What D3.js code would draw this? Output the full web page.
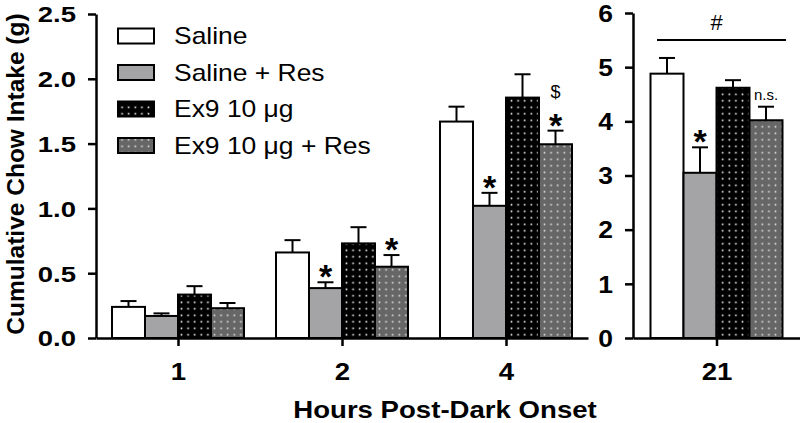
<!DOCTYPE html>
<html lang="en">
<head>
  <meta charset="UTF-8">
  <title>Cumulative Chow Intake</title>
  <script src="https://d3js.org/d3.v7.min.js"></script>
  <style>
    body { margin: 0; background: #fff; }
    text { font-family: Arial, "Liberation Sans", sans-serif; fill: #000; }
    .axis path, .axis line { stroke: #000; stroke-width: 2.5px; }
    .bar { stroke: #000; stroke-width: 2px; }
    .err { stroke: #000; stroke-width: 2px; fill: none; }
  </style>
</head>
<body>
  <svg width="800" height="423"></svg>

  <script>
    // data
    const hours = ["1", "2", "4"];
    const lateHours = ["21"];
    const groups = ["Saline", "Saline + Res", "Ex9 10 μg", "Ex9 10 μg + Res"];

    const saline      = [0.24, 0.66, 1.67];
    const salineRes   = [0.17, 0.385, 1.02];
    const ex9         = [0.335, 0.73, 1.855];
    const ex9Res      = [0.23, 0.55, 1.495];
    const salineErr    = [0.045, 0.095, 0.115];
    const salineResErr = [0.02, 0.045, 0.10];
    const ex9Err       = [0.065, 0.125, 0.18];
    const ex9ResErr    = [0.04, 0.09, 0.105];

    const day21    = [4.88, 3.05, 4.62, 4.02];
    const day21Err = [0.29, 0.47, 0.14, 0.25];

    const leftTicks = [0, 0.5, 1.0, 1.5, 2.0, 2.5];
    const rightTicks = [0, 1, 2, 3, 4, 5, 6];

    // significance marks: [panel, category, group index, label]
    const marks = [
      ["left", "2", 1, "*"], ["left", "2", 3, "*"],
      ["left", "4", 1, "*"], ["left", "4", 3, "*"],
      ["right", "21", 1, "*"]
    ];

    const svg = d3.select("svg");
    const fills = ["#fff", "#a4a4a7", "url(#dotBlack)", "url(#dotGrey)"];

    const defs = svg.append("defs");
    function dotPattern(id, bg, dot) {
      const p = defs.append("pattern").attr("id", id)
        .attr("patternUnits", "userSpaceOnUse").attr("width", 6.6).attr("height", 6.5);
      p.append("rect").attr("width", 6.6).attr("height", 6.5).attr("fill", bg);
      p.append("rect").attr("x", 2.5).attr("y", 2.5).attr("width", 1.6).attr("height", 1.6).attr("fill", dot);
    }
    dotPattern("dotBlack", "#000", "#fff");
    dotPattern("dotGrey", "#666", "#e6e6e6");

    // stretch text horizontally like the original
    function stretch(sel, s) {
      sel.each(function () {
        const t = d3.select(this);
        const x = +t.attr("x") || 0, y = +t.attr("y") || 0;
        t.attr("x", 0).attr("y", 0)
          .attr("transform", `translate(${x},${y}) scale(${s},1)`);
      });
    }

    const barW = 33;
    const y0 = 338;

    const xL = d3.scalePoint().domain(hours).range([96, 588]).padding(0.5);
    const yL = d3.scaleLinear().domain([0, 2.5]).range([y0, 14]);
    const xR = d3.scalePoint().domain(lateHours).range([633, 800]).padding(0.5);
    const yR = d3.scaleLinear().domain([0, 6]).range([y0, 13]);
    const xG = d3.scaleBand().domain(d3.range(4)).range([-2 * barW, 2 * barW]);

    const leftRows = hours.map((h, i) => ({
      cat: h,
      vals: [saline[i], salineRes[i], ex9[i], ex9Res[i]],
      errs: [salineErr[i], salineResErr[i], ex9Err[i], ex9ResErr[i]]
    }));
    const rightRows = [{ cat: "21", vals: day21, errs: day21Err }];

    function drawBars(rows, x, y) {
      const g = svg.append("g");
      rows.forEach(r => {
        r.vals.forEach((v, k) => {
          const bx = x(r.cat) + xG(k);
          const top = y(v + r.errs[k]);
          g.append("line").attr("class", "err")
            .attr("x1", bx + barW / 2).attr("x2", bx + barW / 2)
            .attr("y1", y(v)).attr("y2", top);
          g.append("line").attr("class", "err")
            .attr("x1", bx + barW / 2 - 8).attr("x2", bx + barW / 2 + 8)
            .attr("y1", top).attr("y2", top);
          g.append("rect").attr("class", "bar")
            .attr("x", bx).attr("y", y(v))
            .attr("width", barW).attr("height", y(0) - y(v))
            .attr("fill", fills[k]);
        });
      });
    }
    drawBars(leftRows, xL, yL);
    drawBars(rightRows, xR, yR);

    // axes
    const axL = svg.append("g").attr("class", "axis").attr("transform", "translate(96,0)")
      .call(d3.axisLeft(yL).tickValues(leftTicks).tickFormat(d3.format(".1f")).tickSize(8).tickSizeOuter(0).tickPadding(12));
    const axR = svg.append("g").attr("class", "axis").attr("transform", "translate(633,0)")
      .call(d3.axisLeft(yR).tickValues(rightTicks).tickFormat(d3.format("d")).tickSize(8).tickSizeOuter(0).tickPadding(12));
    const axBL = svg.append("g").attr("class", "axis").attr("transform", `translate(0,${y0})`)
      .call(d3.axisBottom(xL).tickSize(8).tickSizeOuter(0).tickPadding(17));
    const axBR = svg.append("g").attr("class", "axis").attr("transform", `translate(0,${y0})`)
      .call(d3.axisBottom(xR).tickSize(8).tickSizeOuter(0).tickPadding(17));

    [axL, axR, axBL, axBR].forEach(a => a.selectAll("text")
      .style("font-size", "22px").style("font-weight", "bold").attr("dy", null));
    axL.selectAll(".tick text").attr("dy", "0.36em");
    axR.selectAll(".tick text").style("font-size", "23px").attr("dy", "0.36em");
    axBL.selectAll(".tick text").style("font-size", "24px").attr("dy", "0.71em");
    axBR.selectAll(".tick text").style("font-size", "24px").attr("dy", "0.71em");
    stretch(axL.selectAll(".tick text"), 1.25);
    stretch(axR.selectAll(".tick text"), 1.15);
    stretch(axBL.selectAll(".tick text"), 1.15);
    stretch(axBR.selectAll(".tick text"), 1.15);

    // axis titles
    svg.append("text").attr("x", 445).attr("y", 418).attr("text-anchor", "middle")
      .style("font-size", "23px").style("font-weight", "bold").text("Hours Post-Dark Onset")
      .call(stretch, 1.2);
    svg.append("text").attr("transform", "translate(24,174) rotate(-90)")
      .attr("text-anchor", "middle").style("font-size", "24.5px").style("font-weight", "bold")
      .text("Cumulative Chow Intake (g)");

    // legend
    const leg = svg.append("g");
    groups.forEach((name, k) => {
      const cy = 36 + k * 36.5;
      leg.append("rect").attr("class", "bar")
        .attr("x", 118).attr("y", cy - 7.5).attr("width", 36).attr("height", 15)
        .attr("fill", fills[k]);
      leg.append("text").attr("x", 174).attr("y", cy + 8)
        .style("font-size", "23px").text(name).call(stretch, 1.15);
    });

    // significance marks
    marks.forEach(([panel, cat, k, label]) => {
      const rows = panel === "left" ? leftRows : rightRows;
      const x = panel === "left" ? xL : xR;
      const y = panel === "left" ? yL : yR;
      const r = rows.find(d => d.cat === cat);
      svg.append("text")
        .attr("x", x(cat) + xG(k) + barW / 2)
        .attr("y", y(r.vals[k] + r.errs[k]) + 6)
        .attr("text-anchor", "middle")
        .style("font-size", "34px").style("font-weight", "bold").text(label);
    });
    const r4 = leftRows[2];
    svg.append("text").attr("x", xL("4") + xG(3) + barW / 2)
      .attr("y", yL(r4.vals[3] + r4.errs[3]) - 33)
      .attr("text-anchor", "middle").style("font-size", "18px").text("$");
    const r21 = rightRows[0];
    svg.append("text").attr("x", xR("21") + xG(3) + barW / 2)
      .attr("y", yR(r21.vals[3] + r21.errs[3]) - 7)
      .attr("text-anchor", "middle").style("font-size", "15px").text("n.s.");

    // bracket over day 21
    svg.append("line").attr("x1", 657).attr("x2", 786).attr("y1", 40).attr("y2", 40)
      .attr("stroke", "#000").attr("stroke-width", 2);
    svg.append("text").attr("x", xR("21")).attr("y", 30).attr("text-anchor", "middle")
      .style("font-size", "22px").text("#");
  </script>
</body>
</html>
